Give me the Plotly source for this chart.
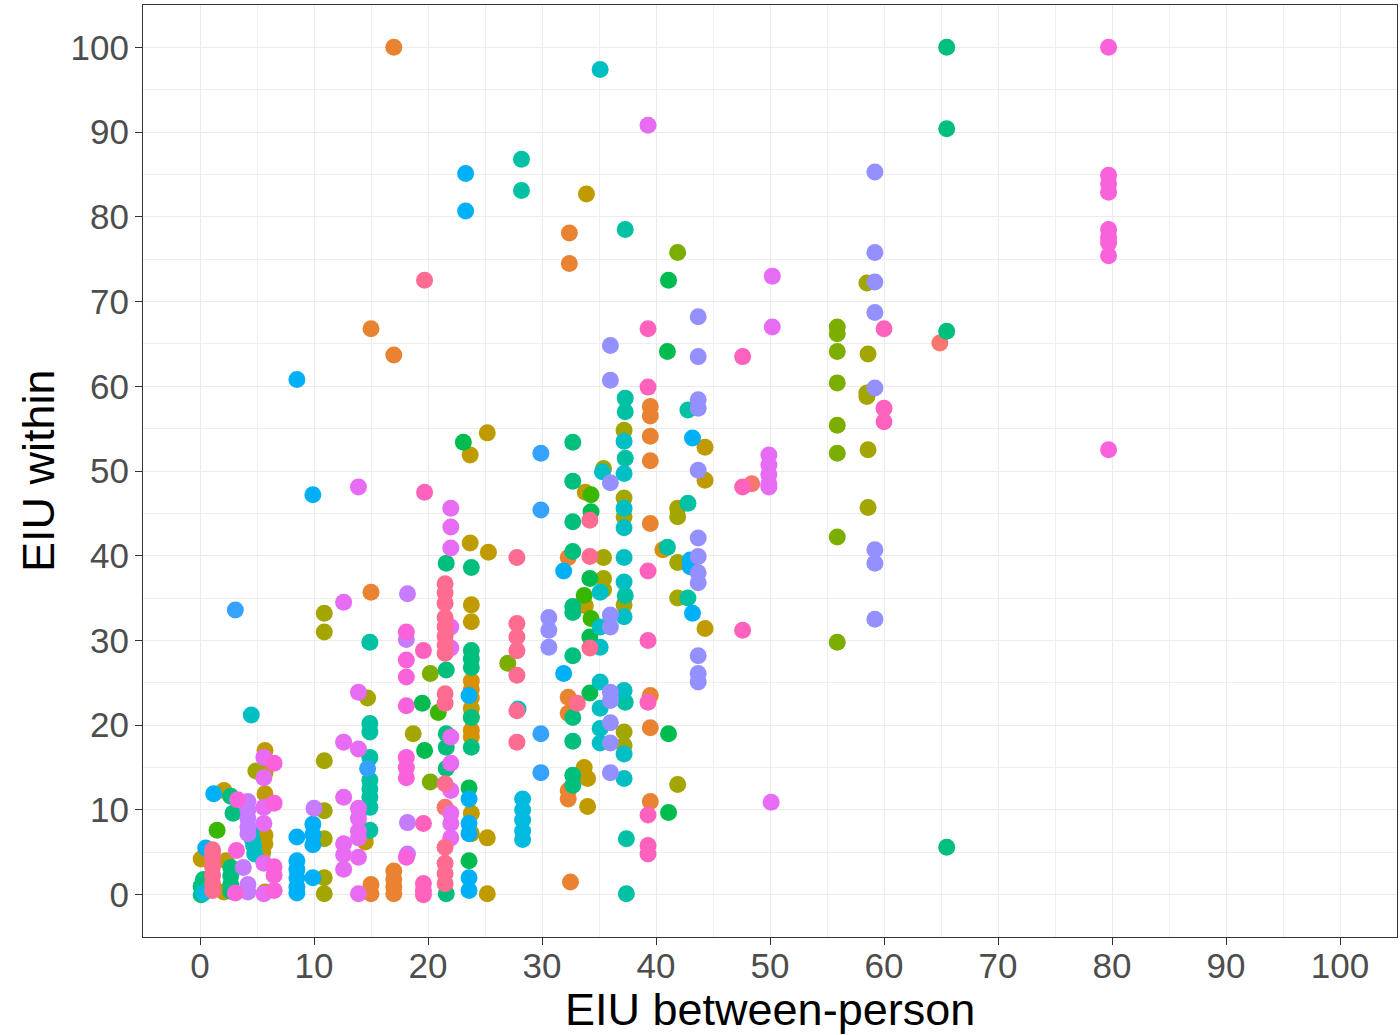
import plotly.graph_objects as go

# ---- data: (EIU between-person, EIU within) pairs per colour group ----
grp_salmon = [(48.4, 48.5), (64.9, 65.1), (21.5, 10.3)]
grp_orange = [(17.0, 100), (15.0, 66.8), (17.0, 63.7), (32.4, 78.1), (32.4, 74.5), (15.0, 35.7),
              (15.0, 1.2), (15.0, 0.1), (17.0, 2.8), (17.0, 1.8), (17.0, 0.9), (17.0, 0.1),
              (39.5, 57.6), (39.5, 56.5), (39.5, 54.1), (39.5, 51.2), (39.5, 43.8), (39.5, 23.5),
              (39.5, 19.7), (39.5, 11.0), (32.3, 39.8), (32.3, 23.3), (32.3, 21.4), (32.3, 12.3),
              (32.3, 11.3), (32.5, 1.5)]
grp_amber = [(23.8, 25.2), (23.8, 24.2), (23.8, 23.2), (23.8, 19.4), (23.8, 18.6), (40.6, 40.7)]
grp_gold = [(2.1, 12.3), (0.1, 4.2), (2.3, 4.0), (2.1, 0.3), (5.7, 17.0), (5.7, 14.4), (5.7, 11.9),
            (5.7, 7.0), (5.7, 6.0), (5.5, 5.0), (5.7, 0.3), (14.5, 6.2), (23.8, 34.2), (23.8, 32.2),
            (23.8, 22.0), (23.8, 21.0), (23.8, 9.6), (23.8, 7.2), (23.7, 51.9), (23.7, 41.5),
            (25.2, 54.5), (25.3, 40.4), (25.2, 6.7), (25.2, 0.1), (33.9, 82.7), (33.8, 47.5),
            (33.8, 34.1), (33.7, 15.0), (34.0, 13.7), (34.0, 10.4), (44.3, 52.8), (44.3, 48.9),
            (44.3, 31.4)]
grp_olive = [(4.9, 14.6), (10.9, 33.2), (10.9, 31.0), (10.9, 15.8), (10.9, 9.9), (10.9, 6.6),
             (10.9, 2.0), (10.9, 0.1), (14.7, 23.2), (18.7, 19.0), (35.4, 50.3), (35.4, 39.8),
             (35.4, 37.3), (35.4, 36.0), (37.2, 54.8), (37.2, 46.8), (37.2, 44.6), (37.2, 34.2),
             (37.2, 19.2), (37.2, 17.6), (41.9, 45.6), (41.9, 44.6), (41.9, 39.2), (41.9, 35.0),
             (41.9, 13.0), (58.5, 72.2), (58.6, 63.8), (58.5, 59.2), (58.5, 58.8), (58.6, 52.5),
             (58.6, 45.7)]
grp_lime = [(20.2, 26.1), (20.2, 13.3), (27.0, 27.3), (41.9, 75.8), (55.9, 67.0), (55.9, 66.2),
            (55.9, 64.1), (55.9, 60.4), (55.9, 55.4), (55.9, 52.1), (55.9, 42.2), (55.9, 29.8)]
grp_green = [(1.5, 7.6), (20.9, 21.5), (33.7, 35.3), (34.3, 47.2), (34.3, 32.6)]
grp_green2 = [(23.1, 53.4), (19.5, 22.6), (19.7, 17.0), (23.6, 12.6), (23.6, 4.0), (34.3, 45.2),
              (34.2, 37.3), (34.2, 30.4), (34.2, 23.8), (41.1, 72.5), (41.0, 64.1), (41.1, 19.0),
              (41.1, 9.7)]
grp_tealgreen = [(0.1, 0.0), (0.1, 1.0), (0.3, 1.8), (2.7, 11.6), (2.9, 9.6), (2.7, 3.2), (2.7, 2.2),
                 (2.7, 1.2), (2.7, 0.4), (21.6, 39.1), (21.6, 26.5), (21.6, 19.0), (21.6, 17.4),
                 (21.6, 14.9), (21.6, 0.1), (23.8, 38.6), (23.8, 28.8), (23.8, 27.8), (23.8, 26.8),
                 (23.8, 20.9), (23.8, 17.4), (32.7, 53.4), (32.7, 48.8), (32.7, 44.0), (32.7, 40.5),
                 (32.7, 34.0), (32.7, 33.3), (32.7, 28.2), (32.7, 20.9), (32.7, 18.1), (32.7, 14.1),
                 (32.7, 12.9), (65.5, 100), (65.5, 90.4), (65.5, 66.5), (65.5, 5.6)]
grp_teal = [(14.9, 29.8), (14.9, 20.2), (14.9, 19.2), (14.9, 16.2), (14.9, 13.5), (14.9, 12.5),
            (14.9, 11.5), (14.9, 10.3), (14.9, 7.6), (37.3, 78.5), (37.3, 58.6), (37.3, 57.0),
            (37.3, 51.5), (37.3, 35.3), (37.3, 22.7), (37.4, 6.6), (37.4, 0.1), (42.8, 57.2),
            (42.8, 46.2), (42.8, 35.0), (41.0, 41.0), (28.2, 86.8), (28.2, 83.1)]
grp_cyan = [(4.5, 21.2), (4.5, 7.5), (4.6, 6.5), (4.7, 5.8), (4.8, 4.8), (35.1, 97.4), (37.2, 53.5),
            (37.2, 49.7), (37.2, 45.6), (37.2, 43.3), (37.2, 39.8), (37.2, 36.9), (37.2, 32.8),
            (35.3, 49.9), (35.1, 35.7), (35.1, 31.6), (35.1, 29.2), (35.1, 25.1), (35.1, 22.0),
            (35.1, 19.6), (35.1, 17.9), (37.2, 24.1), (37.2, 16.6), (37.2, 13.7), (27.9, 21.9)]
grp_cyan2 = [(28.3, 11.3), (28.3, 10.0), (28.3, 8.8), (28.3, 7.5), (28.3, 6.5), (0.3, 0.2)]
grp_sky = [(0.5, 5.5), (1.2, 11.9), (8.5, 60.8), (9.9, 47.2), (23.3, 85.1), (23.3, 80.7), (8.5, 6.8),
           (8.5, 4.0), (8.5, 3.0), (8.5, 2.0), (8.5, 0.9), (8.5, 0.2), (9.9, 8.3), (9.9, 7.1),
           (9.9, 5.9), (9.9, 2.0), (23.6, 23.5), (23.6, 11.3), (23.6, 8.4), (23.6, 7.2), (23.6, 2.0),
           (23.6, 0.5), (31.9, 38.2), (31.9, 26.1), (43.2, 53.9), (43.0, 39.5), (43.0, 38.7),
           (43.2, 33.2)]
grp_blue = [(3.1, 33.6), (14.7, 14.9), (29.9, 52.1), (29.9, 45.4), (29.9, 19.0), (29.9, 14.4)]
grp_purple = [(30.6, 32.7), (30.6, 31.2), (30.6, 29.2), (36.0, 60.7), (36.0, 64.8), (36.0, 48.6),
              (36.0, 33.0), (36.0, 31.6), (36.0, 23.9), (36.0, 22.9), (36.0, 20.3), (36.0, 17.9),
              (36.0, 14.4), (43.7, 68.2), (43.7, 63.5), (43.7, 58.4), (43.7, 57.4), (43.7, 50.1),
              (43.7, 42.1), (43.7, 39.9), (43.7, 38.0), (43.7, 36.8), (43.7, 28.2), (43.7, 26.1),
              (43.7, 25.1), (59.2, 85.3), (59.2, 75.8), (59.2, 72.3), (59.2, 68.7), (59.2, 59.8),
              (59.2, 40.7), (59.2, 39.1), (59.2, 32.5)]
grp_lavender = [(4.2, 11.0), (4.2, 10.0), (4.2, 9.0), (4.2, 8.0), (4.2, 7.2), (3.8, 3.2), (4.2, 1.2),
                (4.2, 0.3), (10.0, 10.2), (18.2, 35.5), (18.1, 30.1), (18.2, 8.5), (18.2, 4.8)]
grp_violet = [(1.1, 5.0), (5.6, 16.2), (5.6, 13.8), (5.6, 10.3), (5.6, 8.4), (5.6, 3.7), (5.6, 0.1),
              (12.6, 34.5), (12.6, 18.0), (12.6, 11.5), (12.6, 6.0), (12.6, 4.7), (12.6, 3.0),
              (13.9, 48.1), (13.9, 17.2), (13.9, 23.9), (13.9, 10.2), (13.9, 9.0), (13.9, 7.5),
              (13.9, 6.7), (13.9, 4.4), (13.9, 0.1), (22.0, 45.6), (22.0, 43.4), (22.0, 40.9),
              (22.0, 31.6), (22.0, 29.1), (22.0, 18.6), (22.0, 15.5), (22.0, 12.3), (22.0, 9.6),
              (22.0, 8.4), (22.0, 6.7), (50.2, 73.0), (50.2, 67.0), (49.9, 51.9), (49.9, 50.7),
              (49.9, 49.6), (49.9, 48.5), (49.9, 48.1), (50.1, 10.9), (39.3, 90.8)]
grp_magenta = [(3.3, 11.2), (3.2, 5.2), (3.1, 0.2), (6.5, 15.5), (6.5, 10.8), (6.5, 3.3), (6.5, 2.3),
               (6.5, 0.5), (18.1, 31.0), (18.1, 27.7), (18.1, 25.7), (18.1, 22.3), (18.1, 16.2),
               (18.1, 15.0), (18.1, 13.8), (18.1, 4.4), (79.7, 100), (79.7, 84.9), (79.7, 83.9),
               (79.7, 82.9), (79.7, 78.5), (79.7, 77.6), (79.7, 76.9), (79.7, 75.4), (79.7, 52.5)]
grp_pinkm = [(19.6, 28.8), (19.6, 8.4), (19.6, 1.3), (19.6, 0.5), (19.6, 0.0), (39.3, 66.8),
             (39.3, 59.9), (39.3, 38.2), (39.3, 30.0), (39.3, 22.7), (39.3, 9.4), (39.3, 5.8),
             (39.3, 4.8), (47.6, 63.5), (47.6, 48.1), (47.6, 31.2), (60.0, 66.8), (60.0, 57.4),
             (60.0, 55.8), (19.7, 47.5)]
grp_pink = [(1.1, 5.3), (1.1, 4.3), (1.1, 3.3), (1.1, 2.3), (1.1, 1.3), (1.1, 0.5), (19.7, 72.5),
            (21.5, 36.7), (21.5, 35.6), (21.5, 34.4), (21.5, 32.7), (21.5, 31.6), (21.5, 30.5),
            (21.5, 29.5), (21.5, 28.5), (21.5, 23.7), (21.5, 22.6), (21.5, 13.1), (21.5, 5.6),
            (21.5, 3.7), (21.5, 2.5), (21.5, 1.3), (27.8, 39.8), (27.8, 32.0), (27.8, 30.4),
            (27.8, 28.8), (27.8, 25.9), (27.8, 21.7), (27.8, 18.0), (34.2, 44.2), (34.2, 39.9),
            (34.2, 29.1), (33.1, 22.6)]

tick_vals = [0, 10, 20, 30, 40, 50, 60, 70, 80, 90, 100]
x_title = "EIU between-person"
y_title = "EIU within"

groups = [
    (grp_salmon, "#F8766D"), (grp_orange, "#EA8331"), (grp_amber, "#D89000"),
    (grp_gold, "#C09B00"), (grp_olive, "#A3A500"), (grp_lime, "#7CAE00"),
    (grp_green, "#39B600"), (grp_green2, "#00BB4E"), (grp_tealgreen, "#00BF7D"),
    (grp_teal, "#00C1A3"), (grp_cyan, "#00BFC4"), (grp_cyan2, "#00BAE0"),
    (grp_sky, "#00B0F6"), (grp_blue, "#35A2FF"), (grp_purple, "#9590FF"),
    (grp_lavender, "#C77CFF"), (grp_violet, "#E76BF3"), (grp_magenta, "#FA62DB"),
    (grp_pinkm, "#FF62BC"), (grp_pink, "#FF6C91"),
]

FONT = "Liberation Sans, Arial, sans-serif"

fig = go.Figure()
for pts, col in groups:
    fig.add_trace(go.Scatter(
        x=[p[0] for p in pts], y=[p[1] for p in pts], mode="markers",
        marker=dict(color=col, size=17, line=dict(width=0)),
        showlegend=False, hoverinfo="x+y"))

axis_common = dict(
    range=[-5, 105], tickvals=tick_vals, ticks="outside", ticklen=7, tickwidth=1.2,
    tickcolor="#333333", showline=True, linecolor="#333333", linewidth=1.2, mirror=True,
    showgrid=True, gridcolor="#EBEBEB", gridwidth=1.2, zeroline=False, automargin=False,
    tickfont=dict(family=FONT, size=35, color="#4D4D4D"),
    minor=dict(dtick=5, tick0=0, showgrid=True, gridcolor="#EFEFEF", gridwidth=1.0, ticks=""),
)

fig.update_layout(
    width=1400, height=1035,
    margin=dict(l=143, r=3, t=5, b=98),
    paper_bgcolor="white", plot_bgcolor="white",
    xaxis=dict(axis_common, ticklabelstandoff=-9),
    yaxis=dict(axis_common, ticklabelstandoff=-1),
    font=dict(family=FONT),
    annotations=[
        dict(text=x_title, xref="paper", yref="paper", x=0.5, y=-0.0783,
             xanchor="center", yanchor="middle", showarrow=False,
             font=dict(family=FONT, size=45, color="black")),
        dict(text=y_title, xref="paper", yref="paper", x=-0.0837, y=0.5, textangle=-90,
             xanchor="center", yanchor="middle", showarrow=False,
             font=dict(family=FONT, size=45, color="black")),
    ],
)

fig.write_html(
    "out.html",
    config={"displayModeBar": False},
    post_script="document.body.style.margin='0';document.body.style.padding='0';"
                "document.body.style.overflow='hidden';",
)
